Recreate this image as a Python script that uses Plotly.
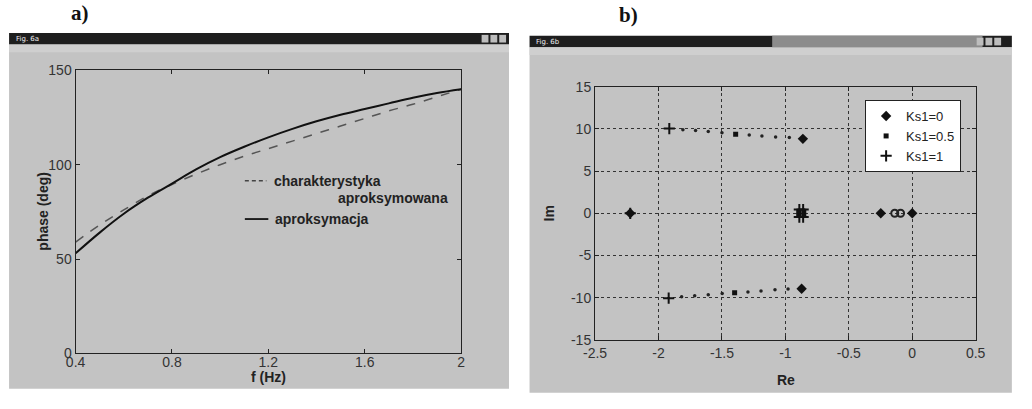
import plotly.graph_objects as go

# the page body keeps its default 8 px margin, so the figure fills the rest of the window
PAGE_W, PAGE_H = 1032, 409
BODY_MARGIN = 8
W, H = PAGE_W - 2 * BODY_MARGIN, PAGE_H - 2 * BODY_MARGIN

# ---------------- panel a: phase characteristic ----------------
freq_hz = [0.4, 0.5, 0.6, 0.7, 0.8, 0.9, 1.0, 1.1, 1.2, 1.3, 1.4, 1.5, 1.6, 1.7, 1.8, 1.9, 2.0]
phase_reference = [59, 68, 76, 83.5, 89.5, 95, 100, 104.5, 108.5, 112.5, 116.5, 120.5, 124.5, 128.5, 132, 136, 140]
phase_fit = [53, 64, 74, 82.5, 90, 97.5, 104, 109.5, 114.5, 119, 123, 126.5, 129.5, 132.5, 135.5, 138, 140]

a_xticks = [0.4, 0.8, 1.2, 1.6, 2.0]
a_xticklabels = ["0.4", "0.8", "1.2", "1.6", "2"]
a_yticks = [0, 50, 100, 150]
a_yticklabels = ["0", "50", "100", "150"]

# ---------------- panel b: pole locations ----------------
# complex pair, upper branch, Ks1 = 1.0 ... 0.0
upper_re = [-1.915, -1.808, -1.708, -1.608, -1.500, -1.392, -1.285, -1.185, -1.077, -0.969, -0.862]
upper_im = [10.03, 9.89, 9.81, 9.69, 9.55, 9.35, 9.27, 9.16, 9.05, 8.98, 8.82]
# complex pair, lower branch, Ks1 = 1.0 ... 0.0
lower_re = [-1.920, -1.818, -1.715, -1.608, -1.498, -1.400, -1.295, -1.192, -1.082, -0.979, -0.872]
lower_im = [-10.05, -9.89, -9.77, -9.66, -9.51, -9.40, -9.32, -9.20, -9.06, -8.98, -8.94]

# real-axis poles
k0_real_re = [-0.248, 0.0, -2.223]
k0_real_im = [0.0, 0.0, 0.0]
k05_real_re = [-0.895, -0.855, -0.895, -0.855]
k05_real_im = [0.25, 0.25, -0.25, -0.25]
k1_real_re = [-2.223, -0.89, -0.86, -0.89, -0.86]
k1_real_im = [0.0, 0.45, 0.45, -0.45, -0.45]
mid_real_re = [-0.138, -0.092]
mid_real_im = [0.0, 0.0]

b_xticks = [-2.5, -2, -1.5, -1, -0.5, 0, 0.5]
b_xticklabels = ["-2.5", "-2", "-1.5", "-1", "-0.5", "0", "0.5"]
b_yticks = [-15, -10, -5, 0, 5, 10, 15]
b_yticklabels = ["-15", "-10", "-5", "0", "5", "10", "15"]


def px(x):
    """page pixel column -> paper x"""
    return (x - BODY_MARGIN) / W


def py(y):
    """page pixel row -> paper y"""
    return 1 - (y - BODY_MARGIN) / H


fig = go.Figure()

# panel a curves
fig.add_trace(go.Scatter(x=freq_hz, y=phase_reference, mode="lines",
                         line=dict(color="#555555", width=1.5, dash="dash", shape="spline"),
                         xaxis="x", yaxis="y", showlegend=False))
fig.add_trace(go.Scatter(x=freq_hz, y=phase_fit, mode="lines", line=dict(color="#111111", width=2, shape="spline"),
                         xaxis="x", yaxis="y", showlegend=False))

# panel b: intermediate gain values as small dots
mid_re = upper_re[1:5] + upper_re[6:10] + lower_re[1:5] + lower_re[6:10]
mid_im = upper_im[1:5] + upper_im[6:10] + lower_im[1:5] + lower_im[6:10]
fig.add_trace(go.Scatter(x=mid_re, y=mid_im, mode="markers", marker=dict(symbol="circle", size=3.5, color="#222"),
                         xaxis="x2", yaxis="y2", showlegend=False))
fig.add_trace(go.Scatter(x=mid_real_re, y=mid_real_im, mode="markers",
                         marker=dict(symbol="circle-open", size=7, color="#222", line=dict(width=2)),
                         xaxis="x2", yaxis="y2", showlegend=False))

fig.add_trace(go.Scatter(x=[upper_re[-1], lower_re[-1]] + k0_real_re, y=[upper_im[-1], lower_im[-1]] + k0_real_im,
                         mode="markers", name="Ks1=0", marker=dict(symbol="diamond", size=8, color="#111"),
                         xaxis="x2", yaxis="y2", legend="legend2"))
fig.add_trace(go.Scatter(x=[upper_re[5], lower_re[5]] + k05_real_re, y=[upper_im[5], lower_im[5]] + k05_real_im,
                         mode="markers", name="Ks1=0.5", marker=dict(symbol="square", size=5, color="#111"),
                         xaxis="x2", yaxis="y2", legend="legend2"))
fig.add_trace(go.Scatter(x=[upper_re[0], lower_re[0]] + k1_real_re, y=[upper_im[0], lower_im[0]] + k1_real_im,
                         mode="markers", name="Ks1=1",
                         marker=dict(symbol="cross-thin", size=8, color="#111", line=dict(width=2, color="#111")),
                         xaxis="x2", yaxis="y2", legend="legend2"))

tick_font = dict(family="Liberation Sans, Arial, sans-serif", size=14, color="#333")

axis_common = dict(showline=True, linecolor="#222", linewidth=1.2, mirror="ticks", ticks="inside",
                   ticklen=4, tickcolor="#222", tickfont=tick_font, zeroline=False)

shapes = []
# window frames
for (x0, x1, ty0, ty1, by1) in [(5, 516, 34, 46, 405), (537, 1030, 37, 49, 409)]:
    shapes.append(dict(type="rect", xref="paper", yref="paper", x0=px(x0), x1=px(x1), y0=py(by1), y1=py(ty1),
                       fillcolor="#c3c3c3", line=dict(width=0), layer="below"))
    shapes.append(dict(type="rect", xref="paper", yref="paper", x0=px(x0), x1=px(x1), y0=py(ty1), y1=py(ty0),
                       fillcolor="#1e1e1e", line=dict(width=0), layer="below"))
    # lighter menu strip under the title bar
    shapes.append(dict(type="rect", xref="paper", yref="paper", x0=px(x0), x1=px(x1), y0=py(ty1 + 8),
                       y1=py(ty1), fillcolor="#cfcfcf", line=dict(width=0), layer="below"))
# inactive part of the second title bar
shapes.append(dict(type="rect", xref="paper", yref="paper", x0=px(785), x1=px(1000), y0=py(49), y1=py(37),
                   fillcolor="#8c8c8c", line=dict(width=0), layer="below"))
# title bar buttons
for x1, ty0, ty1 in [(516, 34, 46), (1022, 37, 49)]:
    for k in range(3):
        bx = x1 - 28 + k * 9
        shapes.append(dict(type="rect", xref="paper", yref="paper", x0=px(bx), x1=px(bx + 7), y0=py(ty1 - 2),
                           y1=py(ty0 + 2), fillcolor="#bdbdbd", line=dict(width=0), layer="below"))

# legend swatches for panel a
shapes.append(dict(type="line", xref="paper", yref="paper", x0=px(246), x1=px(268), y0=py(188), y1=py(188),
                   line=dict(color="#444", width=1.5, dash="4px,3px")))
shapes.append(dict(type="line", xref="paper", yref="paper", x0=px(246), x1=px(270), y0=py(228), y1=py(228),
                   line=dict(color="#111", width=1.8)))

legend_font = dict(family="Liberation Sans, Arial, sans-serif", size=14, color="#222")
label_font = dict(family="Liberation Sans, Arial, sans-serif", size=14, color="#222")


def note(text, x, y, font, xanchor="center", angle=0):
    return dict(text=text, x=px(x), y=py(y), xref="paper", yref="paper", xanchor=xanchor, yanchor="middle",
                textangle=angle, showarrow=False, font=font)


annotations = [
    note("<b>a)</b>", 78, 13, dict(family="Liberation Serif, Times New Roman, serif", size=21, color="#111")),
    note("<b>b)</b>", 638, 15, dict(family="Liberation Serif, Times New Roman, serif", size=21, color="#111")),
    note("Fig. 6a", 10, 40, dict(family="DejaVu Sans", size=7, color="#eee"), xanchor="left"),
    note("Fig. 6b", 542, 43, dict(family="DejaVu Sans", size=7, color="#eee"), xanchor="left"),
    note("<b>charakterystyka</b>", 274, 188, legend_font, xanchor="left"),
    note("<b>aproksymowana</b>", 456, 206, legend_font, xanchor="right"),
    note("<b>aproksymacja</b>", 275, 228, legend_font, xanchor="left"),
    note("<b>phase (deg)</b>", 40, 220, label_font, angle=-90),
    note("<b>f (Hz)</b>", 270, 393, label_font),
    note("<b>Im</b>", 557, 222, label_font, angle=-90),
    note("<b>Re</b>", 799, 396, label_font),
]

fig.update_layout(
    width=W, height=H,
    margin=dict(l=0, r=0, t=0, b=0),
    paper_bgcolor="white",
    plot_bgcolor="white",
    xaxis=dict(domain=[px(73), px(467)], range=[0.4, 2.0], tickvals=a_xticks, ticktext=a_xticklabels,
               anchor="y", showgrid=False, ticklabelstandoff=-4, **axis_common),
    yaxis=dict(domain=[py(368), py(73)], range=[0, 150], tickvals=a_yticks, ticktext=a_yticklabels,
               anchor="x", showgrid=False, **axis_common),
    xaxis2=dict(domain=[px(604), px(993)], range=[-2.5, 0.5], tickvals=b_xticks, ticktext=b_xticklabels,
                anchor="y2", showgrid=True, gridcolor="#333", griddash="dot", gridwidth=1, **axis_common),
    yaxis2=dict(domain=[py(354), py(90)], range=[-15, 15], tickvals=b_yticks, ticktext=b_yticklabels,
                anchor="x2", showgrid=True, gridcolor="#333", griddash="dot", gridwidth=1, **axis_common),
    legend2=dict(x=px(880), y=py(104), xanchor="left", yanchor="top", bgcolor="white", bordercolor="#222",
                 borderwidth=1, font=dict(family="Liberation Sans, Arial, sans-serif", size=13, color="#222"),
                 itemwidth=30, tracegroupgap=0),
    shapes=shapes,
    annotations=annotations,
)

fig.write_html("out.html")
